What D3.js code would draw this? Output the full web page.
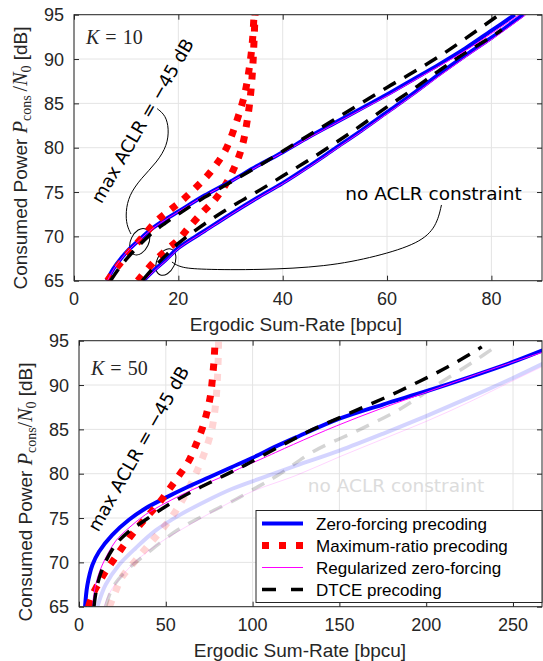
<!DOCTYPE html>
<html><head><meta charset="utf-8">
<script src="https://cdn.jsdelivr.net/npm/d3@7"></script>
<style>body{margin:0;background:#fff} svg{display:block}</style>
</head><body><script>
// ---------- tick labels ----------
const topXTicks = [0, 20, 40, 60, 80];
const botXTicks = [0, 50, 100, 150, 200, 250];
const yTicks = [65, 70, 75, 80, 85, 90, 95];

// ---------- legend ----------
const legendLabels = ["Zero-forcing precoding", "Maximum-ratio precoding", "Regularized zero-forcing", "DTCE precoding"];

// ---------- K = 10 (top), max ACLR = -45 dB ----------
const zf10AclrX = [6.3, 7.5, 9, 10.5, 12.5, 15, 17.5, 20, 25, 30, 35, 40, 45, 50, 55, 60, 65, 70, 75, 80, 84.5];
const zf10AclrY = [65, 66.3, 67.5, 68.5, 69.6, 70.9, 71.9, 72.8, 74.6, 76.2, 77.9, 79.5, 81.2, 82.8, 84.4, 86.0, 87.7, 89.4, 91.2, 93.2, 95];
const rzf10AclrX = [6.4, 7.6, 9.1, 10.6, 12.6, 15.1, 17.6, 20.1, 25.1, 30.2, 35.2, 40.2, 45.3, 50.3, 55.4, 60.5, 65.5, 70.6, 75.7, 80.8, 85.4];
const rzf10AclrY = [65, 66.3, 67.5, 68.5, 69.6, 70.9, 71.9, 72.8, 74.6, 76.2, 77.9, 79.5, 81.2, 82.8, 84.4, 86.0, 87.7, 89.4, 91.2, 93.2, 95];
const dtce10AclrX = [7, 8.5, 10, 12, 15, 17.5, 20, 25, 30, 35, 40, 45, 50, 55, 60, 65, 70, 75, 81.5];
const dtce10AclrY = [65, 66.3, 67.4, 68.7, 70.4, 71.5, 72.5, 74.4, 76.1, 77.8, 79.6, 81.4, 83.2, 85.0, 86.8, 88.5, 90.3, 92.3, 95];
const mr10AclrX = [6.4, 8.5, 11, 13.1, 15.6, 18, 20.4, 23, 25.5, 27.5, 29.1, 30.3, 31.3, 32.1, 32.7, 33.2, 33.6, 34.0, 34.3, 34.5];
const mr10AclrY = [65, 66.7, 68.5, 69.9, 71.6, 72.8, 73.9, 75.3, 76.8, 78.3, 79.8, 81.5, 83.2, 84.7, 86.0, 87.5, 89.0, 90.8, 92.8, 95];

// ---------- K = 10 (top), no ACLR constraint ----------
const zf10NoX = [13.3, 15, 17.5, 20, 25, 30, 35, 40, 45, 50, 55, 60, 65, 70, 75, 80, 86.1];
const zf10NoY = [65, 66.0, 67.3, 68.7, 70.6, 72.5, 74.3, 76.0, 77.9, 79.9, 81.9, 84.0, 86.1, 88.3, 90.4, 92.4, 95];
const rzf10NoX = [13.5, 15.2, 17.7, 20.2, 25.2, 30.2, 35.2, 40.2, 45.3, 50.3, 55.3, 60.4, 65.4, 70.5, 75.5, 80.5, 86.6];
const rzf10NoY = [65, 66.0, 67.3, 68.7, 70.6, 72.5, 74.3, 76.0, 77.9, 79.9, 81.9, 84.0, 86.1, 88.3, 90.4, 92.4, 95];
const dtce10NoX = [13.1, 15, 17.5, 20, 25, 30, 35, 40, 45, 50, 55, 60, 65, 70, 75, 80, 82];
const dtce10NoY = [65, 66.3, 67.8, 69.2, 71.4, 73.3, 75.0, 76.8, 78.6, 80.5, 82.5, 84.6, 86.6, 88.7, 90.7, 92.5, 93.3];
const mr10NoX = [12.2, 15.3, 17.6, 19.8, 22, 24.6, 26.8, 28.7, 30.3, 31.6, 32.5, 33.1, 33.6, 34.0, 34.3, 34.5, 34.7];
const mr10NoY = [65, 67.1, 68.4, 69.5, 71.0, 72.7, 74.0, 75.5, 77.2, 79.0, 80.8, 82.7, 84.7, 87.0, 89.5, 92.0, 95];

// ---------- K = 50 (bottom), max ACLR = -45 dB ----------
const zf50AclrX = [3.5, 4.8, 7.7, 11.5, 19.2, 28.8, 38.4, 50, 62.5, 75, 87.5, 100, 112.5, 125, 150, 175, 200, 225, 250, 267];
const zf50AclrY = [65, 67.4, 69.7, 71.2, 73.1, 74.8, 76.1, 77.3, 78.5, 79.6, 80.7, 81.8, 83.0, 84.1, 86.2, 87.8, 89.3, 90.9, 92.6, 93.9];
const rzf50AclrX = [7.7, 9.6, 13.4, 21.1, 28.8, 38.4, 49.9, 65.3, 80.6, 96, 104.3, 123.5, 148.4, 173.4, 200.3, 229, 267];
const rzf50AclrY = [65, 67.5, 69.7, 72.4, 73.9, 75.4, 76.7, 78.2, 79.5, 80.9, 81.6, 83.3, 85.4, 87.3, 89.2, 91.2, 93.7];
const dtce50AclrX = [8.6, 10.6, 14.4, 21.1, 28.8, 38.4, 49.9, 65.3, 80.6, 96, 115.8, 131.5, 147.5, 163.8, 180, 196, 212, 228, 232];
const dtce50AclrY = [65, 67.5, 69.7, 72.0, 73.5, 74.8, 76.3, 78.0, 79.5, 81.0, 83.1, 84.7, 86.1, 87.5, 88.9, 90.4, 92.0, 93.8, 94.3];
const mr50AclrX = [5.5, 7.5, 10.6, 15.4, 21.1, 26.9, 33.6, 39.4, 46.1, 51.8, 57.6, 63.4, 67.2, 71.0, 73.9, 75.8, 76.9, 77.8, 78.4];
const mr50AclrY = [65, 66.2, 67.4, 69.0, 70.6, 72.2, 73.9, 75.2, 76.7, 78.2, 79.8, 81.5, 83.2, 85.1, 87.1, 88.9, 90.8, 92.8, 95];

// ---------- K = 50 (bottom), no ACLR constraint ----------
const zf50NoX = [10.6, 13, 15.4, 23, 32.6, 44.2, 57.6, 73, 88.3, 105, 125, 150, 175, 200, 225, 250, 267];
const zf50NoY = [65, 66.4, 67.5, 69.7, 71.6, 73.6, 75.3, 76.9, 78.3, 79.5, 80.9, 82.6, 84.5, 86.5, 88.6, 90.8, 92.4];
const rzf50NoX = [14.4, 17, 21.1, 32.6, 48, 63.4, 80.6, 99.8, 125, 150, 175, 200, 225, 250, 267];
const rzf50NoY = [65, 66.3, 67.6, 70.1, 72.4, 74.2, 76.1, 78.0, 79.8, 81.9, 83.9, 85.9, 88.1, 90.5, 92.1];
const dtce50NoX = [15.4, 19.2, 26.9, 38.4, 55.7, 73, 88.3, 103.7, 115.2, 135, 162, 185, 206, 227, 242];
const dtce50NoY = [65, 67.1, 69.0, 70.9, 73.5, 75.4, 76.9, 78.6, 79.9, 82.5, 85.0, 87.3, 90.0, 92.6, 94.6];
const mr50NoX = [17.5, 21, 24.6, 31.3, 39, 46, 53, 59.5, 64.9, 69.5, 73.5, 76.5, 78.2, 79.2, 79.8, 80.2, 80.4];
const mr50NoY = [65, 66.7, 68.3, 69.9, 71.7, 73.3, 75.0, 77.0, 79.0, 81.0, 83.0, 85.0, 87.0, 89.0, 91.0, 93.0, 95];

// ---------- annotation leader lines (data coordinates, top panel) ----------
const leadAclrX = [15.95, 17.56, 18.2, 17.87, 15.95, 12.78, 10.53, 9.9, 10.09, 10.92];
const leadAclrY = [84.4, 83.65, 82.14, 80.27, 78.39, 76.5, 74.63, 72.75, 71.25, 70.27];
const leadNoX = [18.77, 20.3, 24.13, 35.63, 48.4, 57.98, 66.23, 69.47, 70.43];
const leadNoY = [67.11, 66.49, 66.26, 66.21, 66.58, 67.71, 69.22, 71.09, 73.54];
const loopCenters = [[12.6, 69.4], [17.6, 67.1]];

// ---------- styles ----------
const style = {
  zf:   {color: "#0000ff", width: 4,   dash: null},
  mr:   {color: "#ff0000", width: 7,   dash: "7 9"},
  rzf:  {color: "#ff00ff", width: 1,   dash: null},
  dtce: {color: "#000000", width: 3.5, dash: "14 10"}
};
const AX = "#262626", GRID = "#e4e4e4";
const SANS = "'Liberation Sans', Arial, sans-serif";
const SERIF = "'Liberation Serif', 'Times New Roman', serif";
const ANNO = "'DejaVu Sans', sans-serif";

const zip = (xs, ys) => xs.map((v, i) => [v, ys[i]]);

const svg = d3.select("body").append("svg").attr("width", 543).attr("height", 661);

function panel(cfg) {
  const x = d3.scaleLinear().domain(cfg.xDomain).range([cfg.x0, cfg.x1]);
  const y = d3.scaleLinear().domain([65, 95]).range([cfg.y1, cfg.y0]);
  const g = svg.append("g");
  const clipId = "clip" + cfg.id;
  g.append("clipPath").attr("id", clipId).append("rect")
    .attr("x", cfg.x0).attr("y", cfg.y0).attr("width", cfg.x1 - cfg.x0).attr("height", cfg.y1 - cfg.y0);

  // grid
  g.selectAll(".gx").data(cfg.xTicks).enter().append("line")
    .attr("x1", d => x(d)).attr("x2", d => x(d)).attr("y1", cfg.y0).attr("y2", cfg.y1)
    .attr("stroke", GRID).attr("stroke-width", 1);
  g.selectAll(".gy").data(yTicks).enter().append("line")
    .attr("y1", d => y(d)).attr("y2", d => y(d)).attr("x1", cfg.x0).attr("x2", cfg.x1)
    .attr("stroke", GRID).attr("stroke-width", 1);

  // axes via d3 axis (inner ticks), mirrored
  const tl = 5;
  const mk = (axis, tr) => {
    const a = g.append("g").attr("transform", tr).call(axis);
    a.select(".domain").remove();
    a.selectAll("line").attr("stroke", AX);
    a.selectAll("text").remove();
  };
  mk(d3.axisBottom(x).tickValues(cfg.xTicks).tickSizeInner(-tl).tickSizeOuter(0), `translate(0,${cfg.y1})`);
  mk(d3.axisTop(x).tickValues(cfg.xTicks).tickSizeInner(-tl).tickSizeOuter(0), `translate(0,${cfg.y0})`);
  mk(d3.axisLeft(y).tickValues(yTicks).tickSizeInner(-tl).tickSizeOuter(0), `translate(${cfg.x0},0)`);
  mk(d3.axisRight(y).tickValues(yTicks).tickSizeInner(-tl).tickSizeOuter(0), `translate(${cfg.x1},0)`);

  // tick labels
  g.selectAll(".tx").data(cfg.xTicks).enter().append("text")
    .attr("x", d => x(d)).attr("y", cfg.y1 + 24.5).attr("text-anchor", "middle")
    .style("font-family", SANS).style("font-size", "18px").attr("fill", AX).text(d => d);
  g.selectAll(".ty").data(yTicks).enter().append("text")
    .attr("x", cfg.x0 - 10).attr("y", d => y(d)).attr("dy", "0.36em").attr("text-anchor", "end")
    .style("font-family", SANS).style("font-size", "18px").attr("fill", AX).text(d => d);

  // axis labels
  g.append("text").attr("x", cfg.xlabX).attr("y", cfg.y1 + 50).attr("text-anchor", "middle")
    .style("font-family", SANS).style("font-size", "19px").attr("fill", AX).text("Ergodic Sum-Rate [bpcu]");
  const yl = g.append("text").attr("transform", `translate(${cfg.ylabX},${cfg.ylabY}) rotate(-90)`)
    .attr("text-anchor", "middle").style("font-family", SANS).style("font-size", "19px").attr("fill", AX);
  yl.append("tspan").text("Consumed Power ");
  yl.append("tspan").style("font-family", SERIF).style("font-style", "italic").style("font-size", "20px").text("P");
  yl.append("tspan").style("font-family", SERIF).style("font-size", "14px").attr("dy", 4).text("cons");
  yl.append("tspan").style("font-family", SERIF).style("font-size", "20px").attr("dy", -4).text(cfg.id === "t" ? "\u2009/" : "/");
  yl.append("tspan").style("font-family", SERIF).style("font-style", "italic").style("font-size", "20px").text("N");
  yl.append("tspan").style("font-family", SERIF).style("font-size", "14px").attr("dy", 4).text("0");
  yl.append("tspan").attr("dy", -4).text(" [dB]");

  const plot = g.append("g").attr("clip-path", `url(#${clipId})`);
  const line = d3.line().x(d => x(d[0])).y(d => y(d[1])).curve(d3.curveCatmullRom.alpha(0.5));
  return {x, y, g, plot, line};
}

function drawSeries(p, pts, s, opacity) {
  p.plot.append("path").attr("d", p.line(pts)).attr("fill", "none")
    .attr("stroke", s.color).attr("stroke-width", s.width)
    .attr("stroke-dasharray", s.dash).attr("stroke-linecap", "butt").attr("stroke-linejoin", "round")
    .attr("stroke-opacity", opacity);
}

function drawBox(p, cfg) {
  p.g.append("rect").attr("x", cfg.x0).attr("y", cfg.y0).attr("width", cfg.x1 - cfg.x0).attr("height", cfg.y1 - cfg.y0)
    .attr("fill", "none").attr("stroke", AX).attr("stroke-width", 1);
}

// ================= TOP PANEL (K = 10) =================
const cfgT = {id: "t", x0: 74, x1: 542, y0: 14.7, y1: 280.7, xDomain: [0, 89.7], xTicks: topXTicks, xlabX: 296, ylabX: 27, ylabY: 158};
const T = panel(cfgT);

// annotations (under curves)
const annoLine = d3.line().x(d => T.x(d[0])).y(d => T.y(d[1])).curve(d3.curveBasis);
T.plot.append("path").attr("d", annoLine(zip(leadAclrX, leadAclrY))).attr("fill", "none").attr("stroke", "#000").attr("stroke-width", 1);
T.plot.append("path").attr("d", annoLine(zip(leadNoX, leadNoY))).attr("fill", "none").attr("stroke", "#000").attr("stroke-width", 1);
T.plot.selectAll(".loop").data(loopCenters).enter().append("ellipse")
  .attr("transform", d => `translate(${T.x(d[0])},${T.y(d[1])}) rotate(25)`)
  .attr("rx", 9).attr("ry", 14).attr("fill", "none").attr("stroke", "#000").attr("stroke-width", 1);

[[zf10NoX, zf10NoY, style.zf], [mr10NoX, mr10NoY, style.mr], [rzf10NoX, rzf10NoY, style.rzf], [dtce10NoX, dtce10NoY, style.dtce],
 [zf10AclrX, zf10AclrY, style.zf], [mr10AclrX, mr10AclrY, style.mr], [rzf10AclrX, rzf10AclrY, style.rzf], [dtce10AclrX, dtce10AclrY, style.dtce]]
  .forEach(([xs, ys, s]) => drawSeries(T, zip(xs, ys), s, 1));
drawBox(T, cfgT);

T.g.append("text").attr("transform", "translate(143,121) rotate(-60)").attr("text-anchor", "middle").attr("dy", "0.32em")
  .style("font-family", ANNO).style("font-size", "18px").attr("fill", "#000").text("max ACLR = \u221245 dB");
T.g.append("text").attr("x", 433.5).attr("y", 200).attr("text-anchor", "middle")
  .style("font-family", ANNO).style("font-size", "18.5px").attr("fill", "#000").text("no ACLR constraint");
const kT = T.g.append("text").attr("x", 86).attr("y", 43.5).style("font-family", SERIF).style("font-size", "20px").attr("fill", AX);
kT.append("tspan").style("font-style", "italic").text("K");
kT.append("tspan").attr("dx", 6).text("=");
kT.append("tspan").attr("dx", 6).text("10");

// ================= BOTTOM PANEL (K = 50) =================
const cfgB = {id: "b", x0: 79, x1: 542, y0: 340.7, y1: 606.7, xDomain: [0, 266.7], xTicks: botXTicks, xlabX: 300, ylabX: 31.5, ylabY: 492};
const B = panel(cfgB);

B.g.append("text").attr("x", 396).attr("y", 491.5).attr("text-anchor", "middle")
  .style("font-family", ANNO).style("font-size", "18.5px").attr("fill", "#dcdcdc").text("no ACLR constraint");

[[zf50NoX, zf50NoY, style.zf], [mr50NoX, mr50NoY, style.mr], [rzf50NoX, rzf50NoY, style.rzf], [dtce50NoX, dtce50NoY, style.dtce]]
  .forEach(([xs, ys, s]) => drawSeries(B, zip(xs, ys), s, 0.17));
[[zf50AclrX, zf50AclrY, style.zf], [mr50AclrX, mr50AclrY, style.mr], [rzf50AclrX, rzf50AclrY, style.rzf], [dtce50AclrX, dtce50AclrY, style.dtce]]
  .forEach(([xs, ys, s]) => drawSeries(B, zip(xs, ys), s, 1));
drawBox(B, cfgB);

B.g.append("text").attr("transform", "translate(139,449) rotate(-60.5)").attr("text-anchor", "middle").attr("dy", "0.32em")
  .style("font-family", ANNO).style("font-size", "18px").attr("fill", "#000").text("max ACLR = \u221245 dB");
const kB = B.g.append("text").attr("x", 91).attr("y", 374.5).style("font-family", SERIF).style("font-size", "20px").attr("fill", AX);
kB.append("tspan").style("font-style", "italic").text("K");
kB.append("tspan").attr("dx", 6).text("=");
kB.append("tspan").attr("dx", 6).text("50");

// legend
const lg = B.g.append("g");
lg.append("rect").attr("x", 256).attr("y", 510.5).attr("width", 286).attr("height", 92)
  .attr("fill", "#fff").attr("stroke", AX).attr("stroke-width", 1);
const legStyles = [style.zf, style.mr, style.rzf, style.dtce];
const rowY = d3.scalePoint().domain(legendLabels).range([523.5, 589.5]);
legendLabels.forEach((lab, i) => {
  const s = legStyles[i];
  lg.append("line").attr("x1", 262).attr("x2", 303).attr("y1", rowY(lab)).attr("y2", rowY(lab))
    .attr("stroke", s.color).attr("stroke-width", s.width).attr("stroke-dasharray", i === 1 ? "7 10" : (i === 3 ? "14 15" : s.dash));
  lg.append("text").attr("x", 316).attr("y", rowY(lab)).attr("dy", "0.36em")
    .style("font-family", SANS).style("font-size", "17px").attr("fill", "#000").text(lab);
});
</script></body></html>
